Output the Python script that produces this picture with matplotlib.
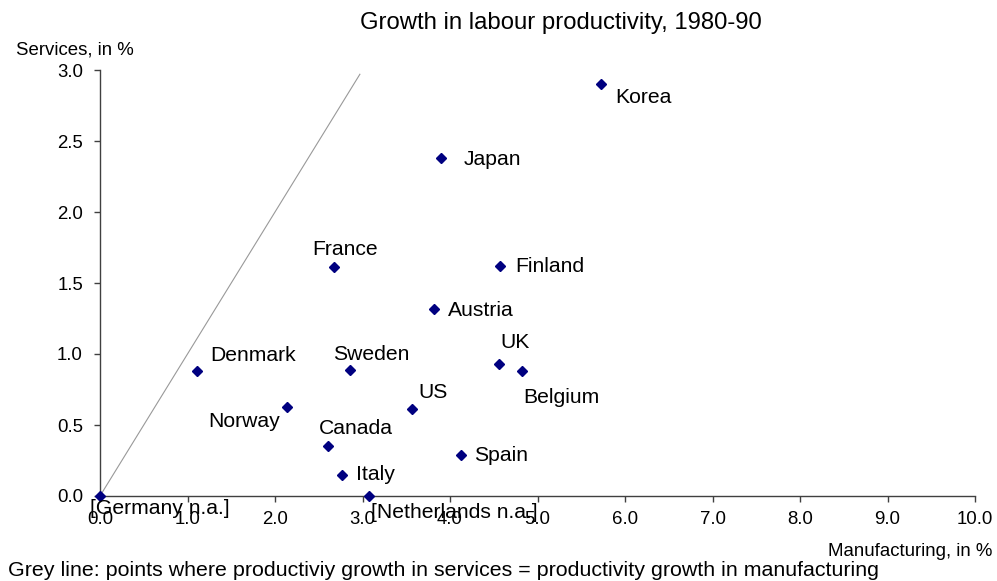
import matplotlib
matplotlib.use("Agg")
import matplotlib.pyplot as plt

plt.rcParams['font.family'] = ['Liberation Sans', 'DejaVu Sans']

countries = ["Korea", "Japan", "France", "Finland", "Austria", "UK", "Belgium",
             "Denmark", "Sweden", "US", "Norway", "Canada", "Spain", "Italy",
             "[Germany n.a.]", "[Netherlands n.a.]"]
manufacturing = [5.73, 3.90, 2.67, 4.57, 3.82, 4.56, 4.82,
                 1.11, 2.86, 3.56, 2.14, 2.60, 4.12, 2.76, 0.0, 3.07]
services = [2.90, 2.38, 1.61, 1.62, 1.32, 0.93, 0.88,
            0.88, 0.89, 0.61, 0.63, 0.35, 0.29, 0.15, 0.0, 0.0]

# label offsets in pixels (dx, dy up) and alignment
label_offsets = {
    "Korea": (14, -13, 'left'), "Japan": (22, -1, 'left'), "France": (-21, 18, 'left'),
    "Finland": (15, -1, 'left'), "Austria": (14, -2, 'left'), "UK": (1, 21, 'left'),
    "Belgium": (1, -26, 'left'), "Denmark": (13, 16, 'left'), "Sweden": (-17, 15, 'left'),
    "US": (7, 17, 'left'), "Norway": (-7, -15, 'right'), "Canada": (-9, 18, 'left'),
    "Spain": (14, -1, 'left'), "Italy": (14, 0, 'left'),
    "[Germany n.a.]": (-10, -13, 'left'), "[Netherlands n.a.]": (2, -17, 'left'),
}

xticks = [0, 1, 2, 3, 4, 5, 6, 7, 8, 9, 10]
yticks = [0, 0.5, 1.0, 1.5, 2.0, 2.5, 3.0]
equal_line = [0.0, 2.97]

W, H = 997, 581
fig = plt.figure(figsize=(W / 100, H / 100), dpi=100)
ax = fig.add_axes([100 / W, (H - 496) / H, 875 / W, 426 / H])

ax.plot(equal_line, equal_line, color='#999999', lw=0.8, zorder=1)
ax.plot(manufacturing, services, linestyle='none', marker='D', markersize=5.6,
        color='#000080', zorder=3, clip_on=False)

for name, x, y in zip(countries, manufacturing, services):
    dx, dy, ha = label_offsets[name]
    ax.annotate(name, (x, y), xytext=(dx, dy), textcoords='offset pixels',
                ha=ha, va='center', fontsize=15.2, color='black', zorder=4)

ax.set_xlim(0, 10)
ax.set_ylim(0, 3)
ax.set_xticks(xticks)
ax.set_xticklabels([f"{v:.1f}" for v in xticks])
ax.set_yticks(yticks)
ax.set_yticklabels([f"{v:.1f}" for v in yticks])
for s in ['top', 'right']:
    ax.spines[s].set_visible(False)
for s in ['left', 'bottom']:
    ax.spines[s].set_color('#404040')
    ax.spines[s].set_linewidth(1.0)
ax.tick_params(axis='both', colors='#404040', labelcolor='black', labelsize=13.4,
               length=4.3, width=1.0, direction='out')
ax.tick_params(axis='x', pad=6.5)
ax.tick_params(axis='y', pad=8)

fig.text(561 / W, 1 - 23 / H, "Growth in labour productivity, 1980-90",
         ha='center', va='center', fontsize=17.2)
fig.text(16 / W, 1 - 50 / H, "Services, in %", ha='left', va='center', fontsize=13.4)
fig.text(992 / W, 1 - 551 / H, "Manufacturing, in %", ha='right', va='center', fontsize=13.4)
fig.text(8 / W, 1 - 571 / H,
         "Grey line: points where productiviy growth in services = productivity growth in manufacturing",
         ha='left', va='center', fontsize=15.4)

fig.savefig("out.png", dpi=100)
